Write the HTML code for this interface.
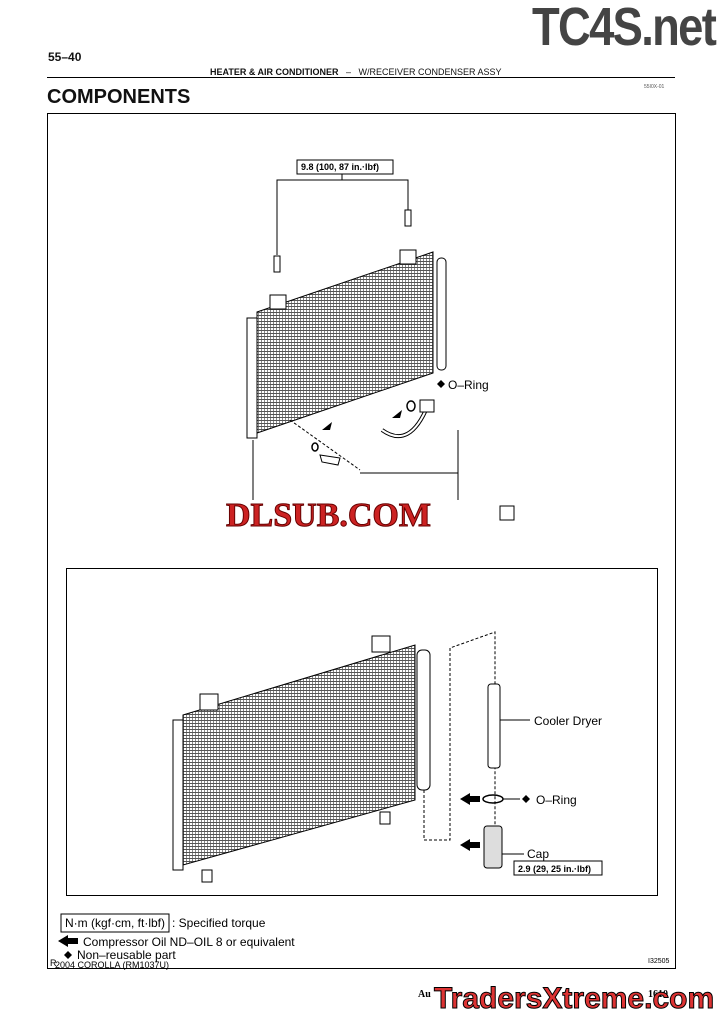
<!DOCTYPE html>
<html><head><style>
body{margin:0;background:#fff;width:724px;height:1024px;overflow:hidden;position:relative;font-family:"Liberation Sans",sans-serif;color:#111}
.a{position:absolute;white-space:nowrap}
</style></head><body>
<div class="a" style="left:532px;top:-4px;font-size:54px;font-weight:bold;color:#444;letter-spacing:-2px;transform:scaleX(0.84);transform-origin:left top">TC4S.net</div>
<div class="a" style="left:48px;top:50px;font-size:12px;font-weight:bold">55–40</div>
<div class="a" style="left:210px;top:67px;font-size:9px"><b>HEATER &amp; AIR CONDITIONER</b> &nbsp; – &nbsp; W/RECEIVER CONDENSER ASSY</div>
<div style="position:absolute;left:47px;top:77px;width:628px;height:1px;background:#000"></div>
<div class="a" style="left:644px;top:84px;font-size:5px;color:#555">55I0X-01</div>
<div class="a" style="left:47px;top:86px;font-size:20px;font-weight:bold">COMPONENTS</div>
<div style="position:absolute;left:47px;top:113px;width:627px;height:854px;border:1px solid #000"></div>
<div style="position:absolute;left:66px;top:568px;width:590px;height:326px;border:1px solid #000"></div>
<svg width="724" height="1024" style="position:absolute;left:0;top:0">
<defs>
<pattern id="h" width="3" height="3" patternUnits="userSpaceOnUse"><rect width="3" height="3" fill="#fff"/><rect width="1" height="3" fill="#888"/><rect width="3" height="1" fill="#555"/></pattern>
</defs>
<rect x="297" y="160" width="96" height="14" fill="#fff" stroke="#000"/>
<polyline points="277,255 277,180 408,180 408,210" fill="none" stroke="#000"/>
<line x1="342" y1="174" x2="342" y2="180" stroke="#000"/>
<rect x="405" y="210" width="6" height="16" fill="#fff" stroke="#000"/>
<rect x="274" y="256" width="6" height="16" fill="#fff" stroke="#000"/>
<polygon points="257,312 433,252 433,373 257,433" fill="url(#h)" stroke="#000"/>
<rect x="247" y="318" width="10" height="120" fill="#fff" stroke="#000"/>
<rect x="437" y="258" width="9" height="112" rx="4" fill="#fff" stroke="#000"/>
<rect x="270" y="295" width="16" height="14" fill="#fff" stroke="#000"/>
<rect x="400" y="250" width="16" height="14" fill="#fff" stroke="#000"/>
<line x1="253" y1="440" x2="253" y2="500" stroke="#000"/>
<line x1="290" y1="420" x2="360" y2="470" stroke="#000" stroke-dasharray="3,2"/>
<ellipse cx="411" cy="406" rx="4" ry="5" fill="none" stroke="#000" stroke-width="1.5"/>
<ellipse cx="315" cy="447" rx="3" ry="4" fill="none" stroke="#000" stroke-width="1.5"/>
<path d="M382,430 Q410,450 428,405" fill="none" stroke="#000" stroke-width="4"/>
<path d="M382,430 Q410,450 428,405" fill="none" stroke="#fff" stroke-width="2"/>
<rect x="420" y="400" width="14" height="12" fill="#fff" stroke="#000"/>
<polygon points="392,418 402,410 400,418" fill="#000"/>
<polygon points="332,422 322,430 330,430" fill="#000"/>
<path d="M320,455 L340,458 L338,465 L322,462Z" fill="#fff" stroke="#000"/>
<polyline points="360,473 458,473 458,430" fill="none" stroke="#000"/>
<line x1="458" y1="473" x2="458" y2="500" stroke="#000"/>
<polygon points="437,384 441,380 445,384 441,388" fill="#000"/>
<text x="448" y="389" font-size="12" font-family="Liberation Sans">O–Ring</text>
<text x="301" y="170" font-size="9" font-weight="bold" font-family="Liberation Sans">9.8 (100, 87 in.·lbf)</text>
<text x="226" y="526" font-size="34" font-weight="bold" fill="#c22" stroke="#600" stroke-width="1" font-family="Liberation Serif">DLSUB.COM</text>
<rect x="500" y="506" width="14" height="14" fill="#fff" stroke="#000"/>
<polygon points="183,715 415,645 415,800 183,865" fill="url(#h)" stroke="#000"/>
<rect x="173" y="720" width="10" height="150" fill="#fff" stroke="#000"/>
<rect x="417" y="650" width="13" height="140" rx="5" fill="#fff" stroke="#000"/>
<rect x="200" y="694" width="18" height="16" fill="#fff" stroke="#000"/>
<rect x="372" y="636" width="18" height="16" fill="#fff" stroke="#000"/>
<rect x="380" y="812" width="10" height="12" fill="#fff" stroke="#000"/>
<rect x="202" y="870" width="10" height="12" fill="#fff" stroke="#000"/>
<polyline points="424,790 424,840 450,840 450,648 495,632 495,840" fill="none" stroke="#000" stroke-dasharray="3,2"/>
<rect x="488" y="684" width="12" height="84" rx="3" fill="#fff" stroke="#000"/>
<line x1="500" y1="720" x2="530" y2="720" stroke="#000"/>
<text x="534" y="725" font-size="12" font-family="Liberation Sans">Cooler Dryer</text>
<polygon points="460,799 470,793 470,796 480,796 480,802 470,802 470,805" fill="#000"/>
<ellipse cx="493" cy="799" rx="10" ry="4" fill="none" stroke="#000" stroke-width="1.5"/>
<line x1="503" y1="799" x2="520" y2="799" stroke="#000"/>
<polygon points="522,799 526,795 530,799 526,803" fill="#000"/>
<text x="536" y="804" font-size="12" font-family="Liberation Sans">O–Ring</text>
<polygon points="460,845 470,839 470,842 480,842 480,848 470,848 470,851" fill="#000"/>
<rect x="484" y="826" width="18" height="42" rx="3" fill="#ddd" stroke="#000"/>
<line x1="502" y1="854" x2="524" y2="854" stroke="#000"/>
<text x="527" y="858" font-size="12" font-family="Liberation Sans">Cap</text>
<rect x="514" y="861" width="88" height="14" fill="#fff" stroke="#000"/>
<text x="518" y="872" font-size="9" font-weight="bold" font-family="Liberation Sans">2.9 (29, 25 in.·lbf)</text>
<rect x="61" y="914" width="108" height="18" fill="#fff" stroke="#000"/>
<text x="65" y="927" font-size="12" font-family="Liberation Sans">N·m (kgf·cm, ft·lbf)</text>
<text x="172" y="927" font-size="12" font-family="Liberation Sans">: Specified torque</text>
<polygon points="58,941 68,935 68,938 78,938 78,944 68,944 68,947" fill="#000"/>
<text x="83" y="946" font-size="12" font-family="Liberation Sans">Compressor Oil ND–OIL 8 or equivalent</text>
<polygon points="64,955 68,951 72,955 68,959" fill="#000"/>
<text x="77" y="959" font-size="12" font-family="Liberation Sans">Non–reusable part</text>
<text x="50" y="966" font-size="9" font-family="Liberation Sans">R</text>
<text x="55" y="968" font-size="9" font-family="Liberation Sans">2004 COROLLA   (RM1037U)</text>
<text x="648" y="963" font-size="7" font-family="Liberation Sans">I32505</text>
<text x="418" y="997" font-size="10" font-weight="bold" font-family="Liberation Serif">Au</text>
<text x="648" y="997" font-size="10" font-weight="bold" font-family="Liberation Serif">1610</text>
<text x="434" y="1008" font-size="30" font-weight="bold" fill="#d33" stroke="#000" stroke-width="1" font-family="Liberation Sans">TradersXtreme.com</text>
</svg>
</body></html>
